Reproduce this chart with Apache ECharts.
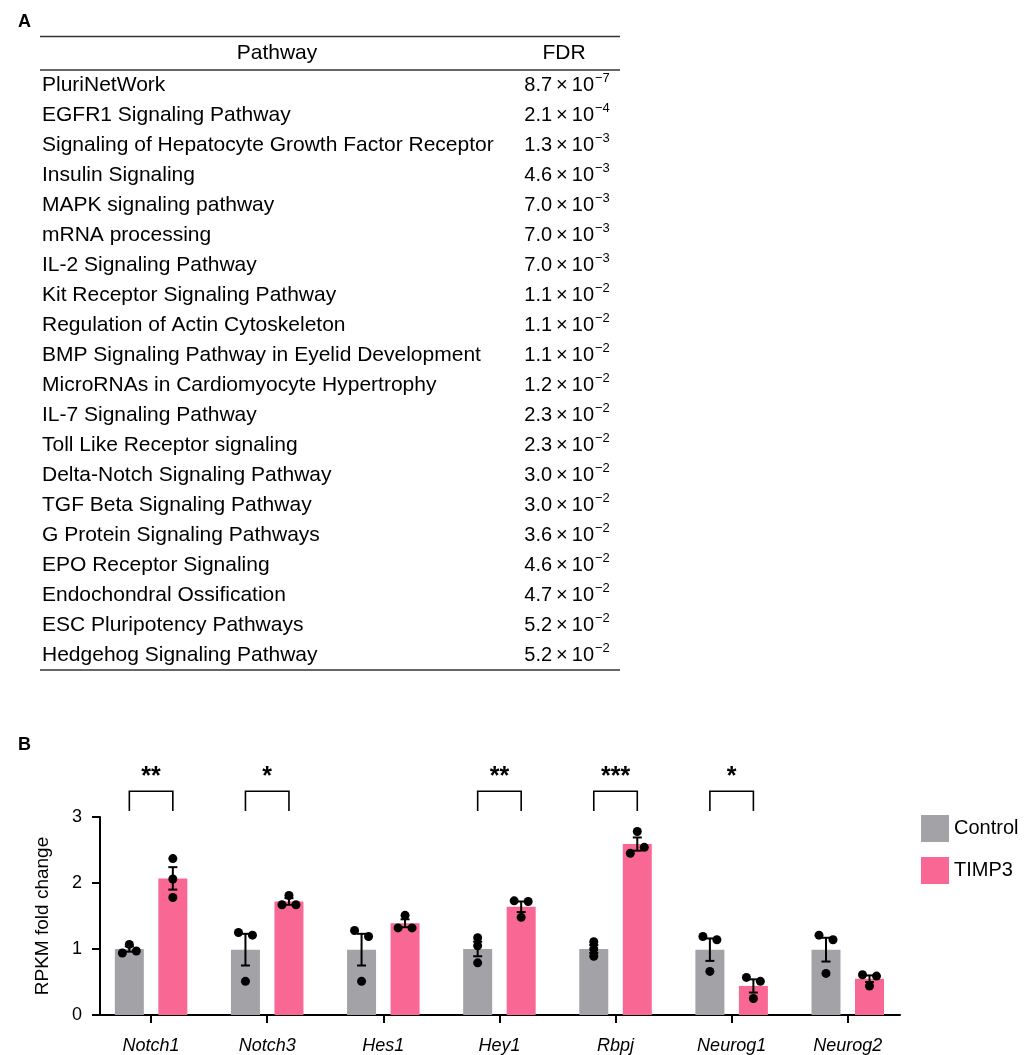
<!DOCTYPE html>
<html><head><meta charset="utf-8">
<script src="https://cdn.jsdelivr.net/npm/echarts@6/dist/echarts.min.js"></script>
<style>html,body{margin:0;padding:0;background:#fff}#c{width:1024px;height:1055px}</style>
</head><body><div id="c"></div>
<script>
// ---------- Panel A data ----------
const pathways = [
  'PluriNetWork','EGFR1 Signaling Pathway','Signaling of Hepatocyte Growth Factor Receptor',
  'Insulin Signaling','MAPK signaling pathway','mRNA processing','IL-2 Signaling Pathway',
  'Kit Receptor Signaling Pathway','Regulation of Actin Cytoskeleton',
  'BMP Signaling Pathway in Eyelid Development','MicroRNAs in Cardiomyocyte Hypertrophy',
  'IL-7 Signaling Pathway','Toll Like Receptor signaling','Delta-Notch Signaling Pathway',
  'TGF Beta Signaling Pathway','G Protein Signaling Pathways','EPO Receptor Signaling',
  'Endochondral Ossification','ESC Pluripotency Pathways','Hedgehog Signaling Pathway'
];
const fdrMantissa = ['8.7','2.1','1.3','4.6','7.0','7.0','7.0','1.1','1.1','1.1','1.2','2.3','2.3','3.0','3.0','3.6','4.6','4.7','5.2','5.2'];
const fdrExponent = [-7,-4,-3,-3,-3,-3,-3,-2,-2,-2,-2,-2,-2,-2,-2,-2,-2,-2,-2,-2];

// ---------- Panel B data ----------
const genes = ['Notch1','Notch3','Hes1','Hey1','Rbpj','Neurog1','Neurog2'];
const controlMean = [1.00,0.99,0.99,1.00,1.00,0.99,0.99];
const controlSem  = [0.04,0.24,0.24,0.11,0.06,0.17,0.18];
const timp3Mean   = [2.07,1.72,1.39,1.64,2.59,0.44,0.55];
const timp3Sem    = [0.17,0.05,0.06,0.08,0.10,0.10,0.05];
const controlDots = [[0.94,0.97,1.07],[1.25,1.21,0.51],[1.28,1.19,0.51],[1.17,1.05,0.79],[1.11,1.00,0.89],[1.19,1.14,0.66],[1.21,1.14,0.63]];
const timp3Dots   = [[2.37,2.06,1.78],[1.81,1.67,1.67],[1.51,1.32,1.32],[1.73,1.72,1.48],[2.78,2.45,2.54],[0.57,0.51,0.25],[0.61,0.59,0.44]];
const significance = ['**','*','','**','***','*',''];
const yTicks = [0,1,2,3];
const seriesNames = ['Control','TIMP3'];

// ---------- styling ----------
const FONT = 'Liberation Sans, Arial, Helvetica, sans-serif';
const GRAY = '#a3a2a7';
const PINK = '#f96795';
const BAR_W = 29, GROUP_OFF = 21.75, JIT = 7, DOT_R = 4.5, CAP = 9;
const BRACKET_TOP = 3.39, BRACKET_BOT = 3.09, STAR_Y = 3.6;

// jitter: dots closer than threshold get spread left/right (GraphPad-like)
function jitterDirs(vals) {
  return vals.map((v, j) => {
    let dir = 0;
    vals.forEach((w, k) => { if (k !== j && Math.abs(v - w) < 0.095) dir = j < k ? -1 : 1; });
    return dir;
  });
}

function barData(means, sems) { return means.map((m, i) => [i, m, sems[i]]); }
function dotData(groups) {
  const out = [];
  groups.forEach((g, i) => { const d = jitterDirs(g); g.forEach((v, j) => out.push([i, v, d[j]])); });
  return out;
}

function barRender(off, color) {
  return function (params, api) {
    const p = api.coord([api.value(0), api.value(1)]);
    const p0 = api.coord([api.value(0), 0]);
    return { type: 'rect', shape: { x: p[0] + off - BAR_W / 2, y: p[1], width: BAR_W, height: p0[1] - p[1] },
      style: { fill: color } };
  };
}
function errRender(off) {
  return function (params, api) {
    const i = api.value(0), m = api.value(1), s = api.value(2);
    const hi = api.coord([i, m + s]), lo = api.coord([i, m - s]);
    const x = hi[0] + off;
    const st = { stroke: '#000', lineWidth: 2 };
    return { type: 'group', children: [
      { type: 'line', shape: { x1: x, y1: hi[1], x2: x, y2: lo[1] }, style: st },
      { type: 'line', shape: { x1: x - CAP / 2, y1: hi[1], x2: x + CAP / 2, y2: hi[1] }, style: st },
      { type: 'line', shape: { x1: x - CAP / 2, y1: lo[1], x2: x + CAP / 2, y2: lo[1] }, style: st }
    ] };
  };
}
function dotRender(off) {
  return function (params, api) {
    const p = api.coord([api.value(0), api.value(1)]);
    return { type: 'circle', shape: { cx: p[0] + off + api.value(2) * JIT, cy: p[1], r: DOT_R }, style: { fill: '#000' } };
  };
}
function sigRender(params, api) {
  const i = api.value(0);
  const lab = significance[i];
  if (!lab) return null;
  const t = api.coord([i, BRACKET_TOP]), b = api.coord([i, BRACKET_BOT]), s = api.coord([i, STAR_Y]);
  const xl = t[0] - GROUP_OFF, xr = t[0] + GROUP_OFF;
  const st = { stroke: '#000', lineWidth: 1.6, fill: null };
  return { type: 'group', children: [
    { type: 'polyline', shape: { points: [[xl, b[1]], [xl, t[1]], [xr, t[1]], [xr, b[1]]] }, style: st },
    { type: 'text', x: t[0], y: s[1], style: { text: lab, fill: '#000', font: 'bold 25px ' + FONT, align: 'center', verticalAlign: 'middle', textAlign: 'center', textVerticalAlign: 'middle' } }
  ] };
}

// ---------- table graphics ----------
const graphics = [];
function txt(x, y, text, size, align) {
  return { type: 'text', x: x, y: y, style: { text: text, fill: '#000', fontSize: size, fontFamily: FONT,
    align: align, verticalAlign: 'middle', textAlign: align, textVerticalAlign: 'middle' } };
}
function hline(x1, x2, y) {
  return { type: 'line', shape: { x1: x1, y1: y, x2: x2, y2: y }, style: { stroke: '#333', lineWidth: 1.4 } };
}
const labA = txt(18, 22, 'A', 18, 'left'); labA.style.fontWeight = 'bold'; graphics.push(labA);
const labB = txt(18, 745, 'B', 18, 'left'); labB.style.fontWeight = 'bold'; graphics.push(labB);
graphics.push(hline(40, 620, 36.5));
graphics.push(hline(40, 620, 70));
graphics.push(hline(40, 620, 670));
graphics.push(txt(277, 53, 'Pathway', 21, 'center'));
graphics.push(txt(564, 53, 'FDR', 21, 'center'));
pathways.forEach((p, i) => {
  const y = 85 + 30 * i;
  graphics.push(txt(42, y, p, 21, 'left'));
  graphics.push(txt(594, y, fdrMantissa[i] + '\u2009\u00d7\u200910', 20, 'right'));
  graphics.push(txt(595, y - 7, '\u2212' + Math.abs(fdrExponent[i]), 13, 'left'));
});

const chart = echarts.init(document.getElementById('c'), null, { renderer: 'canvas' });
chart.setOption({
  animation: false,
  backgroundColor: '#fff',
  textStyle: { fontFamily: FONT },
  graphic: { elements: graphics },
  legend: {
    data: seriesNames, orient: 'vertical', left: 916, top: 810, itemWidth: 28, itemHeight: 27, itemGap: 15,
    icon: 'rect', textStyle: { fontSize: 20, color: '#000', fontFamily: FONT }, selectedMode: false
  },
  grid: { left: 100, right: 124, top: 817, bottom: 40 },
  xAxis: {
    type: 'value', min: -0.44, max: 6.45, splitLine: { show: false },
    axisLine: { show: true, onZero: false, lineStyle: { color: '#000', width: 2 } },
    axisTick: { show: true, customValues: genes.map((g, i) => i), length: 8, lineStyle: { color: '#000', width: 2 } },
    axisLabel: { show: true, customValues: genes.map((g, i) => i), formatter: v => genes[Math.round(v)] || '',
      fontStyle: 'italic', fontSize: 18, color: '#000', fontFamily: FONT, margin: 22 }
  },
  yAxis: {
    type: 'value', min: 0, max: 3, interval: 1, splitLine: { show: false },
    axisLine: { show: true, onZero: false, lineStyle: { color: '#000', width: 2 } },
    axisTick: { show: true, length: 8, lineStyle: { color: '#000', width: 2 } },
    axisLabel: { fontSize: 18, color: '#000', fontFamily: FONT, margin: 18 },
    name: 'RPKM fold change', nameLocation: 'middle', nameGap: 48, nameRotate: 90,
    nameTextStyle: { fontSize: 19, color: '#000', fontFamily: FONT }
  },
  series: [
    { name: 'Control', type: 'custom', itemStyle: { color: GRAY }, encode: { x: 0, y: 1 }, data: barData(controlMean, controlSem), renderItem: barRender(-GROUP_OFF, GRAY), z: 2 },
    { name: 'TIMP3', type: 'custom', itemStyle: { color: PINK }, encode: { x: 0, y: 1 }, data: barData(timp3Mean, timp3Sem), renderItem: barRender(GROUP_OFF, PINK), z: 2 },
    { name: 'ctrlErr', type: 'custom', encode: { x: 0, y: 1 }, data: barData(controlMean, controlSem), renderItem: errRender(-GROUP_OFF), z: 3, clip: false },
    { name: 'timpErr', type: 'custom', encode: { x: 0, y: 1 }, data: barData(timp3Mean, timp3Sem), renderItem: errRender(GROUP_OFF), z: 3, clip: false },
    { name: 'ctrlDots', type: 'custom', encode: { x: 0, y: 1 }, data: dotData(controlDots), renderItem: dotRender(-GROUP_OFF), z: 4, clip: false },
    { name: 'timpDots', type: 'custom', encode: { x: 0, y: 1 }, data: dotData(timp3Dots), renderItem: dotRender(GROUP_OFF), z: 4, clip: false },
    { name: 'sig', type: 'custom', encode: { x: 0, y: 1 }, data: genes.map((g, i) => [i, 3]), renderItem: sigRender, z: 5, clip: false }
  ]
});
</script></body></html>
